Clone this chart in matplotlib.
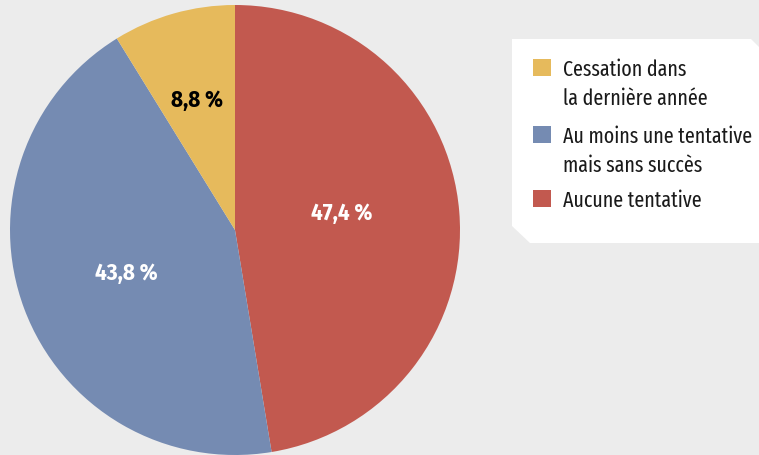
import numpy as np
import matplotlib
matplotlib.use("Agg")
import matplotlib.pyplot as plt
from matplotlib.patches import Polygon, Rectangle

# data
categories = ["Aucune tentative", "Au moins une tentative\nmais sans succès", "Cessation dans\nla dernière année"]
values = [47.4, 43.8, 8.8]
colors = ["#C2594F", "#758BB2", "#E6BA5C"]
label_colors = ["white", "white", "black"]
legend_order = [2, 1, 0]

plt.rcParams["font.family"] = ["Fira Sans Condensed", "DejaVu Sans"]

W, H = 759, 455
bg = "#ECECEC"
fig = plt.figure(figsize=(W / 100, H / 100), dpi=100, facecolor=bg)

# pie axes: center (235, 230) px, radius 225 px
cx, cy, r = 235, 230, 225
ax = fig.add_axes([(cx - r) / W, (H - cy - r) / H, 2 * r / W, 2 * r / H])
ax.set_facecolor(bg)
wedges, _ = ax.pie(values, colors=colors, startangle=90, counterclock=False,
                   radius=1, wedgeprops=dict(linewidth=0))
ax.set_xlim(-1, 1)
ax.set_ylim(-1, 1)
ax.set_aspect("equal")
ax.axis("off")

label_r = [0.48, 0.52, 0.60]
label_shift = [4, 1, 0.5]
for w, v, lr, sh, tc in zip(wedges, values, label_r, label_shift, label_colors):
    ang = np.deg2rad((w.theta1 + w.theta2) / 2 + sh)
    ax.text(lr * np.cos(ang), lr * np.sin(ang), f"{v:.1f} %".replace(".", ","),
            ha="center", va="center", color=tc, fontsize=16.5, fontweight="bold")

# legend box with cut corners (pixel coords, top-left origin)
def fc(x, y):
    return (x / W, (H - y) / H)

box = [(512, 39), (751, 39), (765, 53), (765, 243), (530, 243), (512, 226)]
fig.add_artist(Polygon([fc(x, y) for x, y in box], closed=True,
                       transform=fig.transFigure, facecolor="white", edgecolor="none"))

baselines = [76, 143, 207]
for i, base in zip(legend_order, baselines):
    x0, y0 = fc(533, base)
    fig.add_artist(Rectangle((x0, y0), 18 / W, 17 / H, transform=fig.transFigure,
                             facecolor=colors[i], edgecolor="none"))
    for k, line in enumerate(categories[i].split("\n")):
        tx, ty = fc(563, base + 29 * k)
        fig.text(tx, ty, line, ha="left", va="baseline", fontsize=15.6,
                 family=["Fira Sans Extra Condensed", "DejaVu Sans"], color="#1a1a1a")

fig.savefig("out.png", dpi=100, facecolor=bg)
